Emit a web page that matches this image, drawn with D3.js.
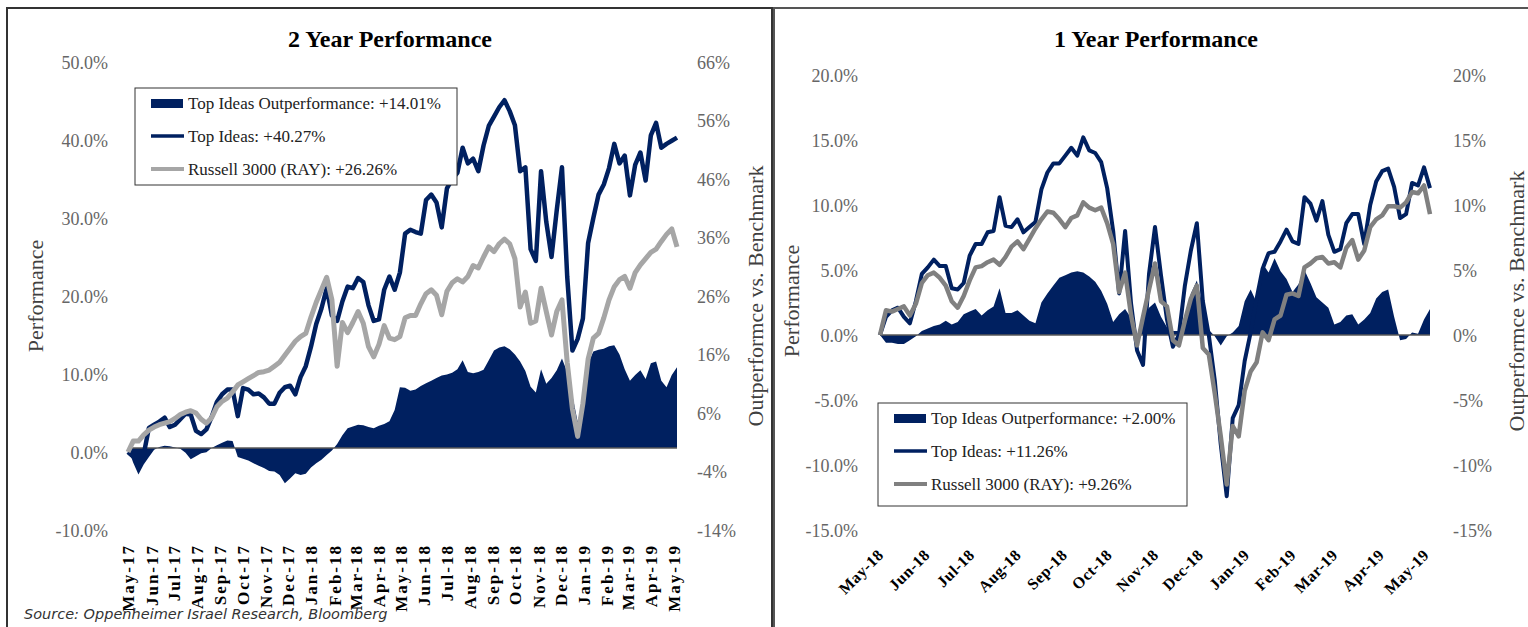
<!DOCTYPE html>
<html>
<head>
<meta charset="utf-8">
<script src="https://cdn.jsdelivr.net/npm/d3@7"></script>
<style>
  body { margin: 0; background: #fff; }
  text { font-family: "Liberation Serif", "Times New Roman", serif; }
</style>
</head>
<body>
<svg id="chart" width="1528" height="627"></svg>
<script>
// ---- 2 year panel: weekly points from May-17 ----
const leftStart = new Date(2017, 4, 1);
const leftStepDays = 7;

const leftTop = [0, -0.6, -0.5, -0.3, 3.1, 3.5, 3.9, 4.4, 3.2, 3.5,
  4.2, 4.9, 4.8, 2.7, 2.3, 2.9, 4.5, 6.4, 7.4, 8.0,
  8.0, 4.6, 8.2, 8.0, 7.4, 7.5, 7.0, 6.2, 6.2, 7.6,
  8.3, 8.5, 7.4, 9.6, 11.0, 13.5, 16.4, 18.4, 21.0, 17.5,
  16.8, 19.3, 21.2, 21.0, 22.3, 21.8, 18.8, 16.8, 17.0, 20.8,
  22.5, 20.8, 23.0, 28.0, 28.5, 28.2, 28.0, 32.3, 33.0, 32.0,
  28.8, 33.8, 35.0, 35.8, 39.0, 37.0, 37.6, 36.0, 39.3, 41.8,
  43.0, 44.2, 45.1, 43.7, 41.9, 36.0, 36.5, 26.0, 24.5, 36.0,
  29.5, 25.0, 31.0, 36.5, 22.5, 13.0, 14.5, 17.1, 26.8, 30.0,
  33.0, 34.3, 36.4, 39.5, 37.0, 38.0, 32.9, 36.8, 38.4, 34.8,
  40.6, 42.2, 39.0, 39.5, 39.9, 40.3];

const leftRay = [0, 1.4, 1.4, 2.2, 2.8, 3.2, 3.5, 3.7, 3.9, 4.3,
  4.8, 5.1, 5.3, 5.0, 4.2, 3.7, 4.4, 5.8, 6.5, 6.9,
  7.7, 8.6, 9.0, 9.4, 9.8, 10.2, 10.3, 10.5, 11.0, 11.5,
  12.4, 13.3, 14.2, 14.8, 15.2, 17.3, 19.2, 20.8, 22.4, 19.5,
  11.0, 16.6, 15.3, 16.6, 18.0, 16.5, 13.5, 12.2, 13.8, 16.2,
  14.6, 14.4, 14.8, 17.2, 17.5, 17.5, 19.0, 20.3, 20.8, 20.1,
  17.6, 20.6, 21.7, 22.2, 21.8, 22.5, 23.9, 23.6, 25.0, 26.3,
  25.7, 26.7, 27.3, 26.7, 24.8, 18.6, 20.5, 16.5, 16.8, 21.0,
  18.0, 15.0, 18.0, 19.5, 11.5, 5.5, 2.0, 6.2, 11.9, 14.6,
  15.2, 17.2, 19.5, 21.2, 22.1, 22.5, 21.0, 23.0, 24.0, 24.8,
  25.6, 26.0, 27.0, 27.9, 28.6, 26.3];

const leftOut = [0, -2.5, -4.5, -2.8, -1.5, -0.3, 0.2, 0.4, 0.3, 0.1,
  -0.1, -0.8, -1.9, -1.4, -0.9, -0.7, 0.0, 0.5, 0.9, 1.3,
  1.2, -1.5, -1.8, -2.1, -2.6, -3.0, -3.4, -3.9, -4.0, -4.6,
  -6.0, -5.2, -4.3, -4.6, -4.4, -3.3, -2.6, -2.0, -1.2, -0.4,
  0.7, 2.2, 3.4, 3.7, 4.0, 3.9, 3.6, 3.4, 3.8, 4.1,
  4.6, 6.5, 10.4, 10.3, 9.8, 10.0, 10.6, 11.1, 11.5, 12.0,
  12.4, 12.6, 12.9, 13.5, 15.0, 13.0, 12.8, 13.0, 13.4, 15.0,
  16.7, 17.2, 17.4, 16.9, 16.0, 14.8, 13.2, 10.5, 9.5, 13.5,
  11.0, 12.0, 13.3, 15.3, 13.0, 9.0, 4.5, 8.0, 14.5, 16.5,
  16.8, 17.0, 17.4, 17.6, 16.0, 13.5, 11.5, 12.5, 13.3, 11.8,
  14.5, 14.8, 11.5, 10.4, 12.5, 13.8];

const leftTicks = [-10, 0, 10, 20, 30, 40, 50];
const leftTicks2 = [-14, -4, 6, 16, 26, 36, 46, 56, 66];
const leftLegend = ["Top Ideas Outperformance: +14.01%", "Top Ideas: +40.27%", "Russell 3000 (RAY): +26.26%"];

// ---- 1 year panel: points every 4 days from May-18 ----
const rightStart = new Date(2018, 4, 1);
const rightStepDays = 4;

const rightTop = [0, 1.4, 1.9, 2.1, 1.4, 0.9, 2.6, 4.7, 5.2, 5.8,
  5.3, 5.3, 3.6, 3.5, 4.0, 6.1, 7.0, 7.0, 7.9, 8.0,
  10.6, 8.4, 8.3, 8.9, 7.9, 8.3, 8.7, 11.2, 12.5, 13.2,
  13.2, 13.8, 14.4, 13.8, 15.2, 14.2, 14.0, 13.3, 11.3, 8.0,
  3.2, 8.0, 2.4, -1.2, -2.3, 4.7, 8.3, 4.6, 1.2, -0.9,
  0.0, 3.8, 6.5, 8.6, 2.6, 0.0, -3.5, -8.4, -12.4, -6.4,
  -5.4, -2.0, 0.2, 2.8, 5.1, 6.3, 6.4, 7.2, 8.1, 7.2,
  7.0, 10.6, 10.1, 8.8, 10.3, 7.7, 6.4, 6.6, 8.6, 9.3,
  9.3, 7.0, 10.0, 11.8, 12.6, 12.8, 11.4, 9.0, 9.3, 11.7,
  11.5, 12.9, 11.3];

const rightRay = [0, 1.9, 1.8, 2.0, 2.2, 1.5, 2.4, 4.0, 4.6, 4.8,
  4.4, 3.8, 2.6, 2.1, 3.0, 4.2, 5.2, 5.3, 5.6, 5.8,
  5.4, 6.0, 6.8, 7.2, 6.6, 7.4, 8.2, 8.9, 9.5, 9.4,
  8.9, 8.3, 9.0, 9.2, 10.2, 9.8, 9.6, 9.8, 8.6, 7.0,
  3.3, 4.8, 1.5, -0.8, 1.4, 3.5, 5.5, 2.6, 2.2, -0.4,
  -0.8, 1.1, 2.8, 3.8, -1.0, -1.5, -4.5, -7.8, -11.5, -7.0,
  -7.8, -4.3, -2.8, -2.1, 0.2, -0.4, 1.2, 1.5, 3.1, 3.2,
  3.0, 5.2, 5.5, 5.9, 6.0, 5.5, 5.6, 5.2, 6.7, 7.3,
  5.8, 6.5, 8.3, 8.9, 9.2, 9.9, 9.9, 9.8, 10.2, 11.0,
  10.9, 11.5, 9.3];

const rightOut = [0, -0.6, -0.6, -0.7, -0.7, -0.4, -0.1, 0.3, 0.5, 0.7,
  0.8, 1.1, 0.8, 1.0, 1.6, 1.8, 2.0, 1.5, 1.9, 2.2,
  3.6, 1.7, 1.7, 1.9, 1.5, 1.1, 0.9, 2.5, 3.2, 3.8,
  4.4, 4.6, 4.8, 4.9, 4.8, 4.5, 4.1, 3.4, 2.4, 1.0,
  1.6, 2.0, 1.3, 0.0, 1.3, 2.1, 2.5, 1.4, 0.6, 0.3,
  0.3, 1.2, 3.2, 4.2, 2.2, 0.4, -0.1, -0.8, -0.1, 0.2,
  0.7, 2.6, 3.5, 2.5, 5.5, 4.8, 5.9, 4.9, 4.3, 3.3,
  3.9, 5.0, 4.0, 2.9, 2.5, 2.1, 0.8, 1.0, 1.5, 1.6,
  0.8, 1.2, 1.7, 2.8, 3.3, 3.5, 1.4, -0.4, -0.3, 0.2,
  0.1, 1.2, 2.0];

const rightTicks = [-15, -10, -5, 0, 5, 10, 15, 20];
const rightLegend = ["Top Ideas Outperformance: +2.00%", "Top Ideas: +11.26%", "Russell 3000 (RAY): +9.26%"];

const NAVY = "#002060";

const svg = d3.select("#chart");

// panel frames
svg.append("path").attr("d", "M7,627V8H772V627").attr("fill", "none").attr("stroke", "#333").attr("stroke-width", 2);
svg.append("path").attr("d", "M774,627V8H1528").attr("fill", "none").attr("stroke", "#555").attr("stroke-width", 2);

function drawPanel(p) {
  const dates = p.top.map((_, i) => d3.timeDay.offset(p.start, i * p.step));
  const x = d3.scaleTime().domain(p.xDomain).range([p.x0, p.x1]);
  const y = d3.scaleLinear().domain(p.yDomain).range([p.yBottom, p.yTop]);
  const y2 = d3.scaleLinear().domain(p.y2Domain).range([p.yBottom, p.yTop]);
  const g = svg.append("g");

  // title
  g.append("text")
    .attr("x", p.titleX).attr("y", 47)
    .attr("text-anchor", "middle")
    .attr("font-size", 24).attr("font-weight", "bold")
    .text(p.title);

  // y axes, labels only
  const yAxis = g.append("g")
    .attr("transform", "translate(" + p.yAxisX + ",0)")
    .call(d3.axisLeft(y).tickValues(p.yTicks).tickSize(0).tickPadding(0).tickFormat((d) => d.toFixed(1) + "%"))
    .attr("font-size", 18);
  yAxis.select(".domain").remove();
  yAxis.selectAll("text").attr("fill", "#666").attr("dy", "0.35em");

  const y2Axis = g.append("g")
    .attr("transform", "translate(" + p.y2AxisX + ",0)")
    .call(d3.axisRight(y2).tickValues(p.y2Ticks).tickSize(0).tickPadding(0).tickFormat((d) => d + "%"))
    .attr("font-size", 18);
  y2Axis.select(".domain").remove();
  y2Axis.selectAll("text").attr("fill", "#666").attr("dy", "0.35em");

  // x axis, month labels
  const xAxis = g.append("g")
    .attr("transform", "translate(0," + p.xAxisY + ")")
    .call(d3.axisBottom(x).ticks(d3.timeMonth.every(1)).tickSize(0).tickFormat(d3.timeFormat("%b-%y")))
    .attr("font-size", p.xFont);
  xAxis.select(".domain").remove();
  xAxis.selectAll("text")
    .attr("transform", "rotate(" + p.xRotate + ")")
    .attr("text-anchor", "end")
    .attr("x", 0).attr("y", 0).attr("dy", "0.35em")
    .attr("fill", "#000")
    .attr("font-weight", "bold")
    .attr("letter-spacing", p.xSpacing);

  // axis titles
  g.append("text")
    .attr("transform", "translate(" + p.perfX + "," + p.titleMidY + ") rotate(-90)")
    .attr("text-anchor", "middle").attr("font-size", 22).attr("fill", "#404040")
    .text("Performance");
  g.append("text")
    .attr("transform", "translate(" + p.outX + "," + p.titleMidY + ") rotate(-90)")
    .attr("text-anchor", "middle").attr("font-size", 22).attr("fill", "#404040")
    .text("Outperformce vs. Benchmark");

  // outperformance area on the secondary axis
  const area = d3.area()
    .x((d, i) => x(dates[i]))
    .y0(y2(0))
    .y1((d) => y2(d));
  g.append("path").datum(p.out).attr("fill", NAVY).attr("d", area);

  g.append("line")
    .attr("x1", p.x0).attr("x2", p.x1)
    .attr("y1", y2(0)).attr("y2", y2(0))
    .attr("stroke", "#595959").attr("stroke-width", 1.5);

  const line = d3.line()
    .x((d, i) => x(dates[i]))
    .y((d) => y(d));

  g.append("path").datum(p.top)
    .attr("fill", "none").attr("stroke", NAVY).attr("stroke-width", p.lineWidth)
    .attr("stroke-linejoin", "round").attr("d", line);
  g.append("path").datum(p.ray)
    .attr("fill", "none").attr("stroke", p.rayColor).attr("stroke-width", p.lineWidth + 0.5)
    .attr("stroke-linejoin", "round").attr("d", line);

  // legend
  const lg = g.append("g").attr("transform", "translate(" + p.legend.x + "," + p.legend.y + ")");
  lg.append("rect")
    .attr("width", p.legend.w).attr("height", p.legend.h)
    .attr("fill", "#fff").attr("stroke", "#333").attr("stroke-width", 1);
  const rows = [15, 48, 81];
  lg.append("rect").attr("x", 16).attr("y", rows[0] - 4).attr("width", 32).attr("height", 9).attr("fill", NAVY);
  lg.append("line").attr("x1", 16).attr("x2", 49).attr("y1", rows[1]).attr("y2", rows[1])
    .attr("stroke", NAVY).attr("stroke-width", 3.5);
  lg.append("line").attr("x1", 16).attr("x2", 49).attr("y1", rows[2]).attr("y2", rows[2])
    .attr("stroke", p.rayColor).attr("stroke-width", 4);
  lg.selectAll("text.item").data(p.legend.labels).enter().append("text")
    .attr("class", "item")
    .attr("x", 53).attr("y", (d, i) => rows[i])
    .attr("dy", "0.35em").attr("font-size", 17).attr("fill", "#222")
    .text((d) => d);
}

drawPanel({
  title: "2 Year Performance", titleX: 390,
  start: leftStart, step: leftStepDays,
  xDomain: [leftStart, new Date(2019, 4, 6)], x0: 128, x1: 677,
  top: leftTop, ray: leftRay, out: leftOut, rayColor: "#a6a6a6", lineWidth: 4.5,
  yDomain: [-10, 50], y2Domain: [-14, 66], yTop: 62, yBottom: 530,
  yTicks: leftTicks, y2Ticks: leftTicks2, yAxisX: 108, y2AxisX: 697,
  xAxisY: 544, xRotate: -90, xFont: 17, xSpacing: 2,
  perfX: 43, outX: 763, titleMidY: 296,
  legend: { x: 135, y: 88, w: 322, h: 97, labels: leftLegend }
});

drawPanel({
  title: "1 Year Performance", titleX: 1156,
  start: rightStart, step: rightStepDays,
  xDomain: [rightStart, new Date(2019, 4, 4)], x0: 880, x1: 1430,
  top: rightTop, ray: rightRay, out: rightOut, rayColor: "#808080", lineWidth: 4,
  yDomain: [-15, 20], y2Domain: [-15, 20], yTop: 75, yBottom: 530,
  yTicks: rightTicks, y2Ticks: rightTicks, yAxisX: 858, y2AxisX: 1453,
  xAxisY: 552, xRotate: -45, xFont: 16, xSpacing: 0.5,
  perfX: 799, outX: 1524, titleMidY: 301,
  legend: { x: 878, y: 403, w: 309, h: 103, labels: rightLegend }
});

// source note
svg.append("text")
  .attr("x", 24).attr("y", 619)
  .style("font-family", "'DejaVu Sans', sans-serif").attr("font-style", "italic")
  .attr("font-size", 14.5).attr("fill", "#333")
  .text("Source: Oppenheimer Israel Research, Bloomberg");
</script>
</body>
</html>
